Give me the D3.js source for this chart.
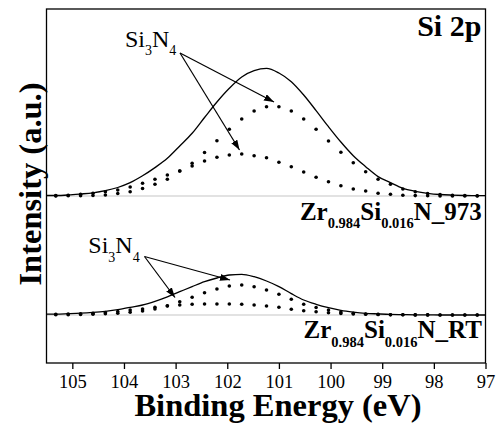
<!DOCTYPE html>
<html>
<head>
<meta charset="utf-8">
<script src="https://cdn.jsdelivr.net/npm/d3@7/dist/d3.min.js"></script>
<style>
body { margin: 0; background: #fff; }
svg { display: block; }
svg text { font-family: "Liberation Serif", "Times New Roman", serif; }
</style>
</head>
<body>
<svg class="chart" width="500" height="425" font-family="Liberation Serif"></svg>
<script>
// binding energies of the sampled points (eV)
var energy = [105.32, 105.08, 104.84, 104.60, 104.36, 104.12, 103.88, 103.64, 103.40, 103.16,
	102.92, 102.68, 102.44, 102.20, 101.96, 101.72, 101.48, 101.24, 101.00, 100.76,
	100.52, 100.28, 100.04, 99.80, 99.56, 99.32, 99.08, 98.84, 98.60, 98.36,
	98.12, 97.88, 97.64, 97.40, 97.16];

// Zr0.984Si0.016N_973 : two fitted components + envelope
var peakA973 = [0.1, 0.2, 0.3, 0.5, 1.0, 2.5, 4.3, 7.5, 11.7, 16.7,
	25, 32.7, 43.5, 55.3, 66.7, 77, 85, 89.3, 89.3, 85,
	77, 66.7, 55, 43.7, 33.3, 24.3, 16.7, 11.7, 7, 4.3,
	2.5, 1.4, 0.8, 0.5, 0.3];
var peakB973 = [0.4, 0.8, 1.7, 2.7, 4.3, 6, 9, 12.7, 16.7, 21,
	25, 30, 35, 38.7, 41, 42, 40.3, 38.3, 33.7, 29.3,
	24, 18.7, 14.3, 10.3, 7, 5, 2.7, 1.7, 0.7, 0.4,
	0.2, 0.1, 0.1, 0, 0];
var fit973 = [0.5, 1.0, 2.0, 3.2, 5.3, 8.5, 13.3, 20.2, 28.4, 37.7,
	50, 62.7, 78.5, 94, 107.7, 119, 125.3, 127.6, 123, 114.3,
	101, 85.4, 69.3, 54, 40.3, 29.3, 19.4, 13.4, 7.7, 4.7,
	2.7, 1.5, 0.9, 0.5, 0.3];

// Zr0.984Si0.016N_RT
var peakART = [0.2, 0.3, 0.5, 0.8, 1.2, 1.8, 2.7, 4, 6, 9,
	13.3, 17.7, 22.3, 26, 29, 30, 28.3, 25, 20.7, 15.7,
	10.7, 7.5, 5, 3, 1.8, 1, 0.6, 0.3, 0.2, 0.1,
	0.1, 0, 0, 0, 0];
var peakBRT = [0.7, 1, 1.3, 1.8, 2.5, 3.5, 5, 6, 7.7, 9.2,
	10, 10.7, 11, 11, 11, 10.7, 10, 9, 7.7, 5.7,
	4.3, 3.2, 2.3, 1.6, 1.1, 0.7, 0.5, 0.3, 0.2, 0.1,
	0.1, 0, 0, 0, 0];
var fitRT = [0.9, 1.3, 1.8, 2.6, 3.7, 5.3, 7.7, 10, 13.7, 18.2,
	23.3, 28.4, 33.3, 37, 40, 40.7, 38.3, 34, 28.4, 21.4,
	15, 10.7, 7.3, 4.6, 2.9, 1.7, 1.1, 0.6, 0.4, 0.2,
	0.2, 0, 0, 0, 0];

// vertical offsets of the stacked spectra (a.u.)
var offsets = {RT: 48, T973: 167};
var xTicks = [105, 104, 103, 102, 101, 100, 99, 98, 97];

var fontFam = 'Liberation Serif';
var margin = {top: 9, right: 14.5, bottom: 62, left: 46.5};
var width = 500 - margin.left - margin.right,
	height = 425 - margin.top - margin.bottom;

var x = d3.scaleLinear().domain([105.5, 97]).range([0, width]);
var y = d3.scaleLinear().domain([0, 354]).range([height, 0]);

var svg = d3.select('.chart');
svg.append('defs').append('marker')
	.attr('id', 'head')
	.attr('markerUnits', 'userSpaceOnUse')
	.attr('markerWidth', 11).attr('markerHeight', 8)
	.attr('refX', 10).attr('refY', 3.5)
	.attr('orient', 'auto')
	.append('path')
	.attr('d', 'M0,0 L10,3.5 L0,7 Z')
	.attr('fill', '#000');

var chart = svg.append('g')
	.attr('transform', 'translate(' + margin.left + ',' + margin.top + ')');

var xAxis = d3.axisBottom(x)
	.tickValues(xTicks)
	.tickFormat(d3.format('d'))
	.tickSize(6)
	.tickSizeOuter(0)
	.tickPadding(6);

chart.append('g')
	.attr('class', 'x axis')
	.attr('transform', 'translate(0,' + height + ')')
	.call(xAxis)
	.attr('font-family', fontFam)
	.attr('font-size', 18.5)
	.call(function(g){
		g.select('.domain').remove();
		g.selectAll('.tick line').attr('stroke', '#000').attr('stroke-width', 1.3);
		g.selectAll('.tick text').attr('fill', '#000').attr('font-family', fontFam);
	});

var spectra = [
	{off: offsets.T973, fit: fit973, comps: [peakA973, peakB973]},
	{off: offsets.RT, fit: fitRT, comps: [peakART, peakBRT]}
];

spectra.forEach(function(s){
	// baseline
	chart.append('line')
		.attr('x1', 0).attr('x2', width)
		.attr('y1', y(s.off)).attr('y2', y(s.off))
		.attr('stroke', '#8a8a8a')
		.attr('stroke-width', 1.2)
		.attr('stroke-dasharray', '1,1');

	// envelope, extended to the frame edges
	var fitE = [105.5].concat(energy, [97]);
	var fitV = [s.fit[0]].concat(s.fit, [s.fit[s.fit.length - 1]]);
	var line = d3.line()
		.x(function(d, i){ return x(fitE[i]); })
		.y(function(d){ return y(s.off + d); })
		.curve(d3.curveMonotoneX);
	chart.append('path')
		.datum(fitV)
		.attr('d', line)
		.attr('fill', 'none')
		.attr('stroke', '#000')
		.attr('stroke-width', 1.3);

	s.comps.forEach(function(c){
		chart.append('g').selectAll('circle')
			.data(c)
			.enter()
			.append('circle')
			.attr('cx', function(d, i){ return x(energy[i]); })
			.attr('cy', function(d){ return y(s.off + d); })
			.attr('r', 1.8)
			.attr('fill', '#000');
	});
});

// frame
chart.append('rect')
	.attr('width', width).attr('height', height)
	.attr('fill', 'none')
	.attr('stroke', '#000')
	.attr('stroke-width', 1.3);

// Si3N4 labels with arrows (positions in data units)
var notes = [
	{label: [103.98, 316.3], tail: [102.915, 310], heads: [[101.095, 261], [101.763, 213]]},
	{label: [104.69, 109.7], tail: [103.603, 106.5], heads: [[101.947, 83], [103.012, 65.5]]}
];
notes.forEach(function(n){
	var t = chart.append('text')
		.attr('x', x(n.label[0])).attr('y', y(n.label[1]))
		.attr('font-family', fontFam)
		.attr('font-size', 24);
	t.append('tspan').text('Si');
	t.append('tspan').attr('dy', 8.5).attr('font-size', 14).text('3');
	t.append('tspan').attr('dy', -8.5).text('N');
	t.append('tspan').attr('dy', 8.5).attr('font-size', 14).text('4');
	n.heads.forEach(function(h){
		chart.append('line')
			.attr('x1', x(n.tail[0])).attr('y1', y(n.tail[1]))
			.attr('x2', x(h[0])).attr('y2', y(h[1]))
			.attr('stroke', '#000')
			.attr('stroke-width', 1.2)
			.attr('marker-end', 'url(#head)');
	});
});

// sample labels
function sampleLabel(yv, suffix){
	var t = chart.append('text')
		.attr('x', x(97.07)).attr('y', y(yv))
		.attr('text-anchor', 'end')
		.attr('font-family', fontFam)
		.attr('font-weight', 'bold')
		.attr('font-size', 25);
	t.append('tspan').text('Zr');
	t.append('tspan').attr('dy', 8.3).attr('font-size', 14.5).text('0.984');
	t.append('tspan').attr('dy', -8.3).text('Si');
	t.append('tspan').attr('dy', 8.3).attr('font-size', 14.5).text('0.016');
	t.append('tspan').attr('dy', -8.3).text('N_' + suffix);
}
sampleLabel(143, '973');
sampleLabel(24.7, 'RT');

chart.append('text')
	.attr('x', x(97.08)).attr('y', y(327))
	.attr('text-anchor', 'end')
	.attr('font-family', fontFam)
	.attr('font-weight', 'bold')
	.attr('font-size', 30)
	.text('Si 2p');

// axis titles
svg.append('text')
	.attr('x', 278).attr('y', 416)
	.attr('text-anchor', 'middle')
	.attr('font-family', fontFam)
	.attr('font-weight', 'bold')
	.attr('font-size', 32.5)
	.text('Binding Energy (eV)');

svg.append('text')
	.attr('transform', 'translate(41,184) rotate(-90)')
	.attr('text-anchor', 'middle')
	.attr('font-family', fontFam)
	.attr('font-weight', 'bold')
	.attr('font-size', 32.5)
	.text('Intensity (a.u.)');
</script>
</body>
</html>
